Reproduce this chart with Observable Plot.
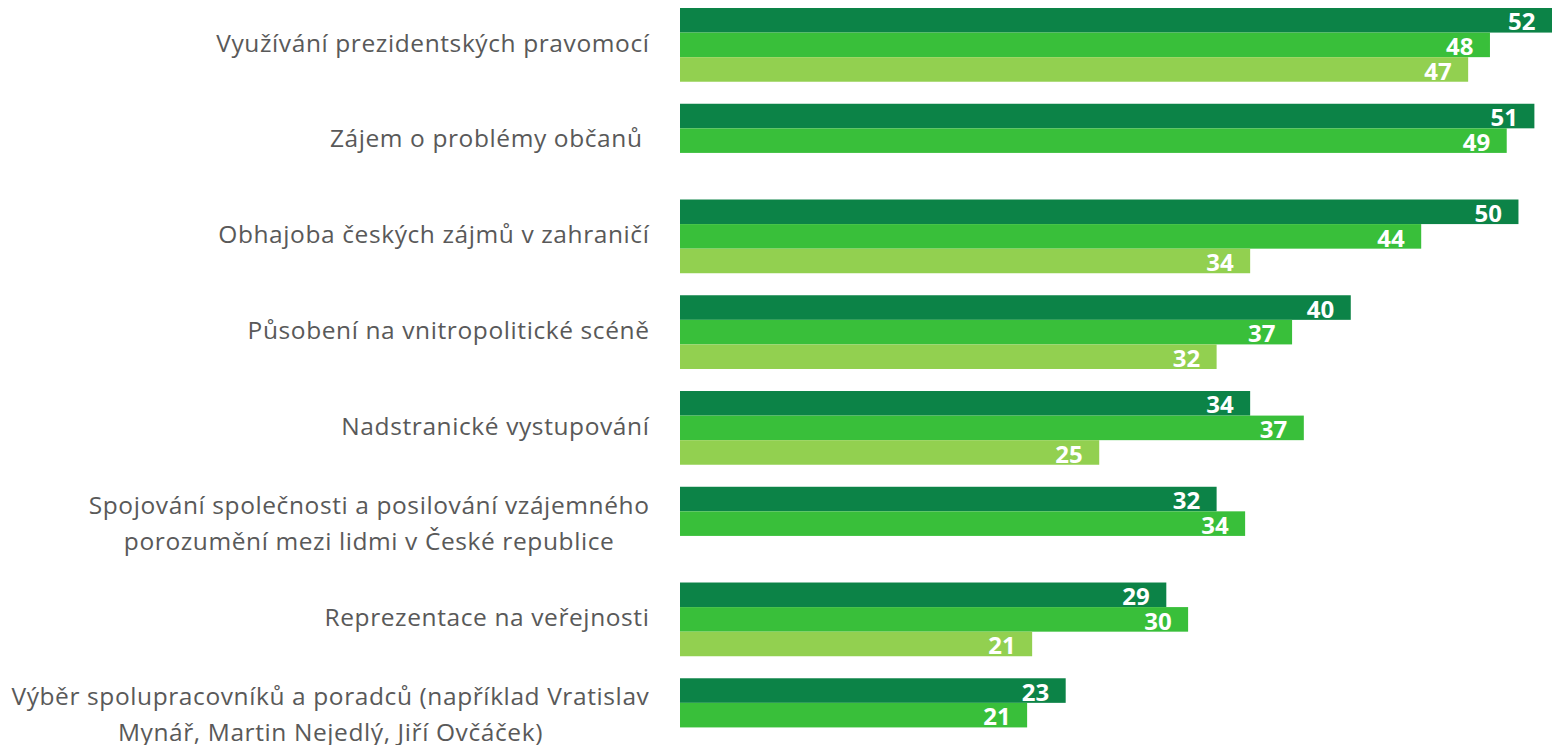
<!DOCTYPE html>
<html>
<head>
<meta charset="utf-8">
<script src="https://cdn.jsdelivr.net/npm/d3@7"></script>
<script src="https://cdn.jsdelivr.net/npm/@observablehq/plot@0.6"></script>
<style>
  html, body { margin: 0; padding: 0; background: #ffffff; overflow: hidden; }
</style>
</head>
<body>
<div id="chart"></div>
<script>
// Categories (top to bottom)
const categories = [
  "Využívání prezidentských pravomocí",
  "Zájem o problémy občanů\u00a0",
  "Obhajoba českých zájmů v zahraničí",
  "Působení na vnitropolitické scéně",
  "Nadstranické vystupování",
  "Spojování společnosti a posilování vzájemného\nporozumění mezi lidmi v České republice",
  "Reprezentace na veřejnosti",
  "Výběr spolupracovníků a poradců (například Vratislav\nMynář, Martin Nejedlý, Jiří Ovčáček)"
];

// Three series (no legend shown in the original)
const seriesNames = ["série 1", "série 2", "série 3"];
const seriesColors = ["#0c8347", "#39bf3a", "#92d050"];

// Values (labels show rounded values)
const series1 = [52, 50.95, 50.0, 40.0, 34.0, 32.0, 29.0, 23.0];
const series2 = [48.3, 49.3, 44.2, 36.5, 37.2, 33.7, 30.3, 20.7];
const series3 = [47.0, null, 34.0, 32.0, 25.0, null, 21.0, null];

const allSeries = [series1, series2, series3];
const data = [];
categories.forEach((c, i) => {
  allSeries.forEach((s, j) => {
    if (s[i] != null) data.push({category: c, series: seriesNames[j], value: s[i]});
  });
});

const fmt = d3.format(".0f");
const singleLine = categories.filter(c => !c.includes("\n"));
const multiLine = categories.filter(c => c.includes("\n"));
const labelFont = "'Open Sans', Lato, sans-serif";
const labelColor = "#595959";

const chart = Plot.plot({
  width: 1552,
  height: 752,
  marginTop: 8,
  marginBottom: 0,
  marginLeft: 680,
  marginRight: 0,
  style: {fontFamily: labelFont, background: "#ffffff", overflow: "hidden"},
  x: {domain: [0, 52], axis: null},
  y: {domain: seriesNames, axis: null, paddingInner: 0, paddingOuter: 0, round: false},
  fy: {domain: categories, axis: null, paddingInner: 0.23, paddingOuter: 0, round: false},
  color: {domain: seriesNames, range: seriesColors},
  marks: [
    Plot.barX(data, {fy: "category", y: "series", x: "value", fill: "series"}),
    Plot.text(data, {
      fy: "category", y: "series", x: "value",
      text: d => fmt(d.value),
      textAnchor: "end", dx: -17, dy: 2,
      fill: "#ffffff", fontWeight: "bold", fontSize: 24
    }),
    Plot.text(singleLine, {
      fy: d => d, text: d => d,
      frameAnchor: "left", textAnchor: "end", dx: -31, dy: -1.5,
      fill: labelColor, fontSize: 24.5
    }),
    Plot.text(multiLine, {
      fy: d => d, text: d => d,
      frameAnchor: "left", textAnchor: "end", dx: -31, dy: -4,
      lineHeight: 1.47,
      fill: labelColor, fontSize: 24.5
    })
  ]
});

document.getElementById("chart").appendChild(chart);

// Slightly wider letter spacing for category labels (grey texts)
chart.querySelectorAll("text").forEach(t => {
  const fillAttr = (t.closest("[fill]") || t).getAttribute("fill") || "";
  if (fillAttr.toLowerCase() === labelColor) t.style.letterSpacing = "0.6px";
});

// Center the lines of multi-line category labels within their right-aligned block
chart.querySelectorAll("text").forEach(t => {
  const spans = t.querySelectorAll("tspan");
  if (spans.length > 1) {
    const w = t.getBBox().width;
    t.setAttribute("text-anchor", "middle");
    spans.forEach(s => s.setAttribute("x", -w / 2));
  }
});
</script>
</body>
</html>
